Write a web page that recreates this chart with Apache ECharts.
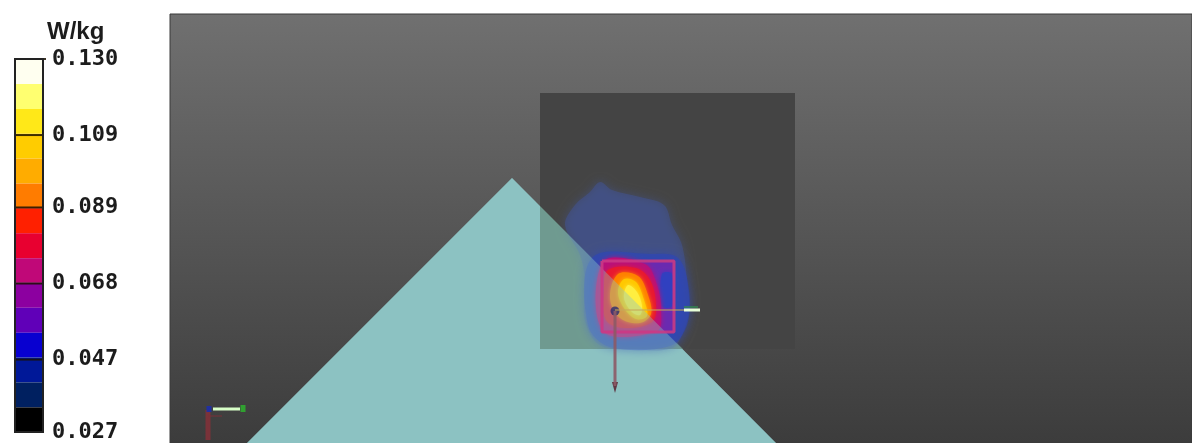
<!DOCTYPE html>
<html><head><meta charset="utf-8">
<style>html,body{margin:0;padding:0;background:#fff}#c{width:1192px;height:443px;filter:blur(0.7px)}</style>
<script src="https://cdn.jsdelivr.net/npm/echarts@6/dist/echarts.min.js"></script>
</head><body><div id="c"></div>
<script>
// colour scale
const unit = 'W/kg';
const tickValues = [0.130, 0.109, 0.089, 0.068, 0.047, 0.027];
const bandEdges = [0.130,0.1231,0.1162,0.1094,0.1025,0.0956,0.0888,0.0819,0.0750,0.0682,0.0613,0.0544,0.0476,0.0407,0.0338,0.027];
const bandColors = ['#fffff0','#ffff70','#ffe818','#ffcc00','#ffac00','#ff7c00','#ff2000','#e80030','#c00878','#8c00a0','#6000b8','#0800d0','#001898','#002060','#000000'];
// scene shapes
const triangle = [[512,178],[247,443],[776,443]];
const scanSquare = [[540,93],[795,93],[795,349],[540,349]];
const overlap = [[540,206],[683,349],[540,349]];
const zoomSquare = [[602,261],[674,261],[674,332],[602,332],[602,261]];
// field contours
const fieldOuter = [[600,182],[612,190],[640,197],[664,205],[672,225],[682,245],[687,280],[689,310],[682,335],[672,348],[640,350],[600,345],[585,320],[585,280],[580,255],[565,225],[575,205],[590,192]];
const fieldBlue = [[592,258],[650,254],[678,258],[689,290],[687,325],[670,346],[610,347],[588,325]];
const fieldPurple = [[603,262],[673,262],[673,331],[603,331]];
const fieldRightBlue = [[662,274],[672,274],[672,306],[662,306]];
const fieldMagenta = [[603,262],[645,264],[657,285],[661,310],[657,331],[603,331]];
const fieldRed = [[608,270],[636,268],[650,280],[656,305],[652,322],[625,328],[606,320],[604,290]];
const fieldOrange = [[618,274],[638,276],[648,295],[651,314],[640,323],[620,318],[610,298]];
const fieldYellow = [[624,279],[636,282],[644,300],[647,316],[636,319],[624,308],[618,292]];
const fieldPale = [[628,285],[637,292],[642,306],[640,315],[632,312],[624,298]];
// axis glyphs
const redAxis = [[615,311],[615,386]];
const redHead = [[612,382],[618,382],[615,393]];
const greenAxis = [[615,310],[684,310]];
const greenTip = [[684,310],[700,310]];
const greenHalo = [[684,307],[698,307]];
const originDot = [[615,311]];
const triadGreen = [[213,409],[240,409]];
const triadRed = [[208,410],[208,440]];
const triadRedFoot = [[208,416],[222,416]];
const triadBlue = [[209,406],[209,412]];
const triadGreenTip = [[243,405],[243,412]];

function poly(points, fill, opacity, blur) {
  return {
    type:'custom', xAxisIndex:0, yAxisIndex:0, coordinateSystem:'cartesian2d', silent:true,
    data:[points[0]], clip:true,
    renderItem(p, api){
      return {type:'polygon', shape:{points:points.map(q=>api.coord(q)), smooth: blur ? 0.35 : 0},
        style:{fill, opacity, shadowBlur:blur||0, shadowColor:fill}};
    }
  };
}
function line(points, color, width, opacity) {
  return {type:'line', xAxisIndex:0, yAxisIndex:0, data:points, symbol:'none', silent:true, animation:false,
    lineStyle:{color, width, opacity: opacity==null?1:opacity}};
}
const bandData = bandColors.map((c,i)=>[bandEdges[i], bandEdges[i+1], c]);
const tickData = tickValues.map(v=>[v]);
const option = {
  animation:false,
  title:{text:unit, left:42, top:15, textStyle:{fontFamily:'Liberation Sans', fontSize:24, fontWeight:'bold', color:'#1c1c1c'}},
  grid:[
    {left:170, right:0, top:14, bottom:0, show:true, borderWidth:1, borderColor:'#3a3a3a',
     backgroundColor:{type:'linear',x:0,y:0,x2:0,y2:1,colorStops:[{offset:0,color:'#707070'},{offset:1,color:'#3c3c3c'}]}},
    {left:15, width:28, top:59, height:375}
  ],
  xAxis:[
    {type:'value', gridIndex:0, min:170, max:1192, show:false},
    {type:'value', gridIndex:1, min:0, max:1, show:false}
  ],
  yAxis:[
    {type:'value', gridIndex:0, min:14, max:443, inverse:true, show:false},
    {type:'value', gridIndex:1, min:0.027, max:0.130, position:'right', splitLine:{show:false},
     axisLine:{show:false}, axisTick:{show:false},
     axisLabel:{margin:9, customValues:tickValues, formatter:v=>v.toFixed(3), verticalAlignMinLabel:'middle', verticalAlignMaxLabel:'middle',
       fontFamily:'DejaVu Sans Mono', fontSize:22, fontWeight:'bold', color:'#1c1c1c'}}
  ],
  series:[
    poly(triangle,'#8cc2c2',1),
    poly(scanSquare,'#444444',1),
    poly(overlap,'#5c7f6e',1),
    poly(fieldOuter,'#4058a8',0.4,10),
    poly(fieldBlue,'#2a44c0',0.5,10),
    poly(fieldPurple,'#6a2ab0',1),
    poly(fieldRightBlue,'#3040c0',0.9,4),
    poly(fieldMagenta,'#b8107a',1,5),
    poly(fieldRed,'#e81830',1,5),
    poly(fieldOrange,'#ff8000',1,4),
    poly(fieldYellow,'#ffc800',1,4),
    poly(fieldPale,'#ffee40',1,4),
    poly(triangle,'#8cc2c2',0.4),
    line(zoomSquare,'#cc3884',3,0.9),
    line(redAxis,'#8c5a66',3,0.9),
    poly(redHead,'#5e3844',1),
    line(greenAxis,'#c8a858',1.5,0.7),
    line(greenHalo,'#308a50',2,0.7),
    line(greenTip,'#e8ffd8',3),
    {type:'scatter', xAxisIndex:0, yAxisIndex:0, data:originDot, symbolSize:9, itemStyle:{color:'#2a2a70'}, silent:true},
    line(triadRed,'#8a3038',5,0.8),
    line(triadRedFoot,'#7a3038',2,0.5),
    line(triadBlue,'#2030a0',5),
    line(triadGreen,'#d8ffc8',3),
    line(triadGreenTip,'#30a030',5),
    {type:'custom', xAxisIndex:1, yAxisIndex:1, silent:true, data:bandData, encode:{y:[0,1]},
     renderItem(p, api){
       const a=api.coord([0,api.value(0)]), b=api.coord([1,api.value(1)]);
       return {type:'rect', shape:{x:a[0],y:a[1],width:b[0]-a[0],height:b[1]-a[1]}, style:{fill:bandData[p.dataIndex][2]}};
     }},
    {type:'custom', xAxisIndex:1, yAxisIndex:1, silent:true, clip:false, data:tickData, encode:{y:0},
     renderItem(p, api){
       const a=api.coord([0,api.value(0)]), b=api.coord([1,api.value(0)]);
       return {type:'line', shape:{x1:a[0],y1:a[1],x2:b[0]+(p.dataIndex===0?3:0),y2:b[1]}, style:{stroke:'#1a1000', lineWidth:2, opacity:0.85}};
     }},
    {type:'custom', xAxisIndex:1, yAxisIndex:1, silent:true, clip:false, data:[[0.130,0.027]], encode:{y:[0,1]},
     renderItem(p, api){
       const a=api.coord([0,api.value(0)]), b=api.coord([1,api.value(1)]);
       return {type:'rect', shape:{x:a[0],y:a[1],width:b[0]-a[0],height:b[1]-a[1]}, style:{fill:'none', stroke:'#222', lineWidth:2}};
     }}
  ]
};
echarts.init(document.getElementById('c'),null,{renderer:'canvas'}).setOption(option);
</script></body></html>
